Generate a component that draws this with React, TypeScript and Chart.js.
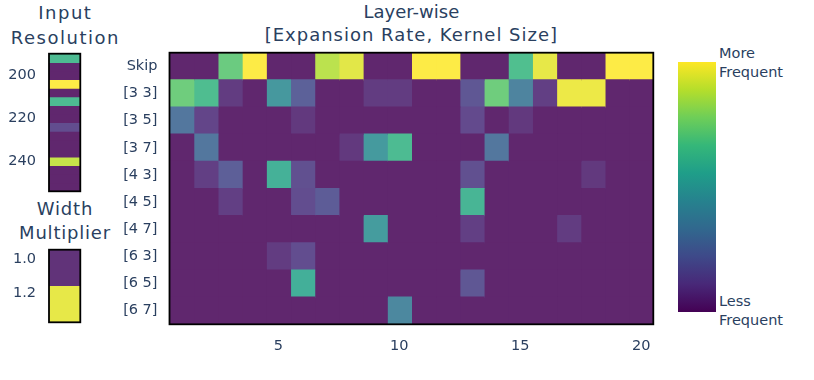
import React, { useEffect, useRef } from "react";
import { Chart, registerables } from "chart.js";

Chart.register(...registerables);

// ---------- data ----------
const layerRows = ["Skip", "[3 3]", "[3 5]", "[3 7]", "[4 3]", "[4 5]", "[4 7]", "[6 3]", "[6 5]", "[6 7]"];
const layerCols = [1, 2, 3, 4, 5, 6, 7, 8, 9, 10, 11, 12, 13, 14, 15, 16, 17, 18, 19, 20];
const layerXTicks = [5, 10, 15, 20];

const freqSkip = [0, 0, 0.72, 1, 0, 0, 0.88, 0.95, 0, 0, 1, 1, 0, 0, 0.65, 0.96, 0, 0, 1, 1];
const freq33 = [0.73, 0.64, 0.07, 0, 0.46, 0.21, 0, 0, 0.07, 0.07, 0, 0, 0.17, 0.73, 0.36, 0.08, 0.97, 0.97, 0, 0];
const freq35 = [0.3, 0.1, 0, 0, 0, 0.06, 0, 0, 0, 0, 0, 0, 0.12, 0, 0.06, 0, 0, 0, 0, 0];
const freq37 = [0, 0.3, 0, 0, 0, 0, 0, 0.06, 0.47, 0.63, 0, 0, 0, 0.3, 0, 0, 0, 0, 0, 0];
const freq43 = [0, 0.08, 0.2, 0, 0.58, 0.14, 0, 0, 0, 0, 0, 0, 0.14, 0, 0, 0, 0, 0.06, 0, 0];
const freq45 = [0, 0, 0.08, 0, 0, 0.13, 0.19, 0, 0, 0, 0, 0, 0.6, 0, 0, 0, 0, 0, 0, 0];
const freq47 = [0, 0, 0, 0, 0, 0, 0, 0, 0.48, 0, 0, 0, 0.08, 0, 0, 0, 0.07, 0, 0, 0];
const freq63 = [0, 0, 0, 0, 0.07, 0.13, 0, 0, 0, 0, 0, 0, 0, 0, 0, 0, 0, 0, 0, 0];
const freq65 = [0, 0, 0, 0, 0, 0.57, 0, 0, 0, 0, 0, 0, 0.17, 0, 0, 0, 0, 0, 0, 0];
const freq67 = [0, 0, 0, 0, 0, 0, 0, 0, 0, 0.38, 0, 0, 0, 0, 0, 0, 0, 0, 0, 0];
const layerFreq = [freqSkip, freq33, freq35, freq37, freq43, freq45, freq47, freq63, freq65, freq67];

const resolutions = [192, 196, 200, 204, 208, 212, 216, 220, 224, 228, 232, 236, 240, 244, 248, 252];
const resFreq = [0.63, 0, 0, 1, 0, 0.63, 0, 0, 0.13, 0, 0, 0, 0.9, 0, 0, 0];
const resBinWidth = 4;
const resRange = [190, 254];
const resTicks = [200, 220, 240];

const widthEdges = [0.945, 1.154, 1.369];
const widthFreq = [0.04, 0.96];
const widthTicks = [1.0, 1.2];

// ---------- style ----------
const FONT = "'DejaVu Sans', Verdana, sans-serif";
const TEXT = "#2a3f5f";
const CELL_OPACITY = 0.85;

const VIRIDIS = ["#440154", "#482878", "#3e4989", "#31688e", "#26828e", "#1f9e89", "#35b779", "#6ece58", "#b5de2b", "#fde725"];

function hexToRgb(h: string) {
  return [parseInt(h.slice(1, 3), 16), parseInt(h.slice(3, 5), 16), parseInt(h.slice(5, 7), 16)];
}

// viridis colour, pre-blended over white with the cell opacity (opaque result, no seams)
function viridis(v: number, opacity = 1) {
  const t = Math.max(0, Math.min(1, v)) * (VIRIDIS.length - 1);
  const i = Math.min(VIRIDIS.length - 2, Math.floor(t));
  const f = t - i;
  const a = hexToRgb(VIRIDIS[i]);
  const b = hexToRgb(VIRIDIS[i + 1]);
  const c = a.map((x, k) => x + (b[k] - x) * f).map((x) => Math.round(x * opacity + 255 * (1 - opacity)));
  return `rgb(${c[0]},${c[1]},${c[2]})`;
}

const framePlugin = {
  id: "frame",
  afterDatasetsDraw(chart: any) {
    const { ctx, chartArea } = chart;
    ctx.save();
    ctx.strokeStyle = "#000";
    ctx.lineWidth = 1.8;
    ctx.strokeRect(chartArea.left, chartArea.top, chartArea.right - chartArea.left, chartArea.bottom - chartArea.top);
    ctx.restore();
  },
};

const tickFont = { family: FONT, size: 14.5 };

function useChart(ref: React.RefObject<HTMLCanvasElement>, make: () => any) {
  useEffect(() => {
    if (!ref.current) return;
    const chart = new Chart(ref.current, make());
    return () => chart.destroy();
  }, []);
}

const cellDataset = {
  borderWidth: 0,
  barPercentage: 1,
  categoryPercentage: 1,
  grouped: false,
  inflateAmount: 0.6,
};

function mainConfig() {
  return {
    type: "bar",
    data: {
      labels: layerRows,
      datasets: layerCols.map((c, ci) => ({
        ...cellDataset,
        data: layerRows.map(() => [c - 0.5, c + 0.5]),
        backgroundColor: layerFreq.map((row) => viridis(row[ci], CELL_OPACITY)),
      })),
    },
    options: {
      indexAxis: "y",
      responsive: false,
      animation: false,
      events: [],
      layout: { padding: { top: 9.3, right: 11.7, left: 0, bottom: 0 } },
      plugins: { legend: { display: false }, tooltip: { enabled: false } },
      scales: {
        x: {
          type: "linear",
          min: layerCols[0] - 0.5,
          max: layerCols[layerCols.length - 1] + 0.5,
          afterBuildTicks: (s: any) => {
            s.ticks = layerXTicks.map((v) => ({ value: v }));
          },
          afterFit: (s: any) => {
            s.height = 35.7;
          },
          grid: { display: false },
          border: { display: false },
          ticks: { font: tickFont, color: TEXT, padding: 5, maxRotation: 0, autoSkip: false },
        },
        y: {
          type: "category",
          afterFit: (s: any) => {
            s.width = 79.5;
          },
          grid: { display: false },
          border: { display: false },
          ticks: { font: tickFont, color: TEXT, padding: 4, autoSkip: false },
        },
      },
    },
    plugins: [framePlugin],
  };
}

function resConfig() {
  return {
    type: "bar",
    data: {
      labels: ["resolution"],
      datasets: resolutions.map((r, i) => ({
        ...cellDataset,
        data: [[r - resBinWidth / 2, r + resBinWidth / 2]],
        backgroundColor: viridis(resFreq[i], CELL_OPACITY),
      })),
    },
    options: {
      responsive: false,
      animation: false,
      events: [],
      layout: { padding: { top: 9.3, right: 9.7, left: 0, bottom: 12 } },
      plugins: { legend: { display: false }, tooltip: { enabled: false } },
      scales: {
        x: { display: false },
        y: {
          type: "linear",
          reverse: true,
          min: resRange[0],
          max: resRange[1],
          afterBuildTicks: (s: any) => {
            s.ticks = resTicks.map((v) => ({ value: v }));
          },
          afterFit: (s: any) => {
            s.width = 49;
          },
          grid: { display: false },
          border: { display: false },
          ticks: { font: tickFont, color: TEXT, padding: 5 },
        },
      },
    },
    plugins: [framePlugin],
  };
}

function widthConfig() {
  return {
    type: "bar",
    data: {
      labels: ["width"],
      datasets: widthFreq.map((f, i) => ({
        ...cellDataset,
        data: [[widthEdges[i], widthEdges[i + 1]]],
        backgroundColor: viridis(f, CELL_OPACITY),
      })),
    },
    options: {
      responsive: false,
      animation: false,
      events: [],
      layout: { padding: { top: 10.7, right: 9.7, left: 0, bottom: 11.7 } },
      plugins: { legend: { display: false }, tooltip: { enabled: false } },
      scales: {
        x: { display: false },
        y: {
          type: "linear",
          reverse: true,
          min: widthEdges[0],
          max: widthEdges[widthEdges.length - 1],
          afterBuildTicks: (s: any) => {
            s.ticks = widthTicks.map((v) => ({ value: v }));
          },
          afterFit: (s: any) => {
            s.width = 49;
          },
          grid: { display: false },
          border: { display: false },
          ticks: {
            font: tickFont,
            color: TEXT,
            padding: 5,
            callback: (v: any) => Number(v).toFixed(1),
          },
        },
      },
    },
    plugins: [framePlugin],
  };
}

const titleStyle: React.CSSProperties = {
  position: "absolute",
  fontFamily: FONT,
  fontSize: 18,
  color: TEXT,
  textAlign: "center",
  whiteSpace: "nowrap",
};

const cbLabelStyle: React.CSSProperties = {
  position: "absolute",
  left: 719,
  fontFamily: FONT,
  fontSize: 14.5,
  lineHeight: "19px",
  color: TEXT,
  whiteSpace: "nowrap",
};

export default function App() {
  const mainRef = useRef<HTMLCanvasElement>(null);
  const resRef = useRef<HTMLCanvasElement>(null);
  const widthRef = useRef<HTMLCanvasElement>(null);

  useChart(mainRef, mainConfig);
  useChart(resRef, resConfig);
  useChart(widthRef, widthConfig);

  const gradient = `linear-gradient(to top, ${VIRIDIS.map((c, i) => `${c} ${(i / (VIRIDIS.length - 1)) * 100}%`).join(", ")})`;

  return (
    <div style={{ position: "fixed", left: 0, top: 0, width: 814, height: 380, background: "#fff", overflow: "hidden" }}>
      <div style={{ ...titleStyle, left: 0, width: 130.7, top: 0, lineHeight: "25px", letterSpacing: "1.5px" }}>
        Input
        <br />
        Resolution
      </div>
      <div style={{ ...titleStyle, left: 0, width: 130, top: 196.5, lineHeight: "24px", letterSpacing: "0.8px" }}>
        Width
        <br />
        Multiplier
      </div>
      <div style={{ ...titleStyle, left: 211.4, width: 400, top: 0, lineHeight: "23px" }}>
        Layer-wise
        <br />
        <span style={{ letterSpacing: "1px" }}>[Expansion Rate, Kernel Size]</span>
      </div>

      <canvas ref={resRef} width={90} height={165} style={{ position: "absolute", left: 0, top: 40, width: 90, height: 165 }} />
      <canvas ref={widthRef} width={90} height={100} style={{ position: "absolute", left: 0, top: 236, width: 90, height: 100 }} />
      <canvas ref={mainRef} width={575} height={320} style={{ position: "absolute", left: 90, top: 40, width: 575, height: 320 }} />

      <div style={{ position: "absolute", left: 678.3, top: 61.7, width: 37.4, height: 250, background: gradient }} />
      <div style={{ ...cbLabelStyle, top: 43.8 }}>
        More
        <br />
        Frequent
      </div>
      <div style={{ ...cbLabelStyle, top: 291.5 }}>
        Less
        <br />
        Frequent
      </div>
    </div>
  );
}
